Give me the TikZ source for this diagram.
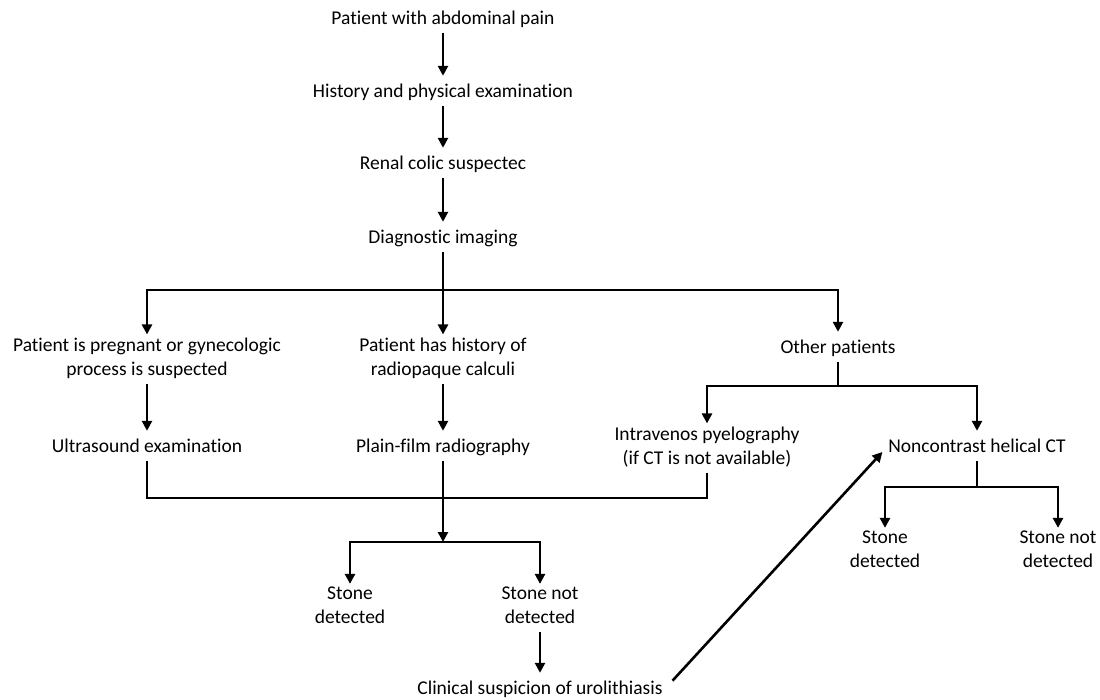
\documentclass[tikz,border=0pt]{standalone}
\usepackage{fontspec}
\setmainfont[Ligatures=NoCommon]{Carlito}
\usepackage{tikz}
\usetikzlibrary{arrows.meta}

\newcommand\linestrut{\rule[-5.2pt]{0pt}{24pt}}

\begin{document}
\begin{tikzpicture}[x=1pt,y=-1pt,
    every node/.style={align=center,inner sep=3pt,
        font=\fontsize{19.5}{24}\selectfont,
        execute at begin node=\linestrut, execute at end node=\linestrut},
    line/.style={black,line width=2.6pt},
    arr/.style={line,-{Triangle[length=10pt,width=10pt]}}]
    \useasboundingbox (0,0) rectangle (1100,700);
    %%%%% THE MAIN COLUMN
    \node (PAIN)  at (443,18)  {Patient with abdominal pain};
    \node (HIST)  at (443,91)  {History and physical examination};
    \node (RENAL) at (443,163) {Renal colic suspectec};
    \node (IMG)   at (443,237) {Diagnostic imaging};
    \draw[arr] (PAIN) -- (HIST);
    \draw[arr] (HIST) -- (RENAL);
    \draw[arr] (RENAL) -- (IMG);
    %%%%% THE THREE GROUPS
    \coordinate (BR1) at (443,290);
    \node (PREG)  at (147,359) {Patient is pregnant or gynecologic\\process is suspected};
    \node (CALC)  at (443,359) {Patient has history of\\radiopaque calculi};
    \node (OTHER) at (838,347) {Other patients};
    \draw[line] (IMG) -- (BR1);
    \draw[arr] (BR1) -| (PREG);
    \draw[arr] (BR1) -- (CALC);
    \draw[arr] (BR1) -| (OTHER);
    %%%%% THE IMAGING
    \coordinate (BR2) at (838,386);
    \node (US)  at (147,446) {Ultrasound examination};
    \node (PFR) at (443,446) {Plain-film radiography};
    \node (IVP) at (707,448) {Intravenos pyelography\\(if CT is not available)};
    \node (CT)  at (977,446) {Noncontrast helical CT};
    \draw[arr] (PREG) -- (US);
    \draw[arr] (CALC) -- (PFR);
    \draw[line] (OTHER) -- (BR2);
    \draw[arr] (BR2) -| (IVP);
    \draw[arr] (BR2) -| (CT);
    %%%%% THE RESULTS ON THE LEFT
    \coordinate (MRG) at (443,498);
    \coordinate (BR3) at (443,542);
    \node (SD1)  at (350,608) {Stone\\detected};
    \node (SND1) at (540,608) {Stone not\\detected};
    \node (CLIN) at (540,688) {Clinical suspicion of urolithiasis};
    \draw[line] (US) |- (MRG) -| (IVP);
    \draw[arr] (PFR) -- (BR3);
    \draw[arr] (BR3) -| (SD1);
    \draw[arr] (BR3) -| (SND1);
    \draw[arr] (SND1) -- (CLIN);
    %%%%% THE RESULTS ON THE RIGHT
    \coordinate (BR4) at (977,487);
    \node (SD2)  at (885,552) {Stone\\detected};
    \node (SND2) at (1058,552) {Stone not\\detected};
    \draw[line] (CT) -- (BR4);
    \draw[arr] (BR4) -| (SD2);
    \draw[arr] (BR4) -| (SND2);
    %%%% BACK TO THE CT
    \draw[arr, shorten <=10pt, shorten >=4pt] (CLIN.east) -- ([yshift=-3pt]CT.west);
\end{tikzpicture}
\end{document}
